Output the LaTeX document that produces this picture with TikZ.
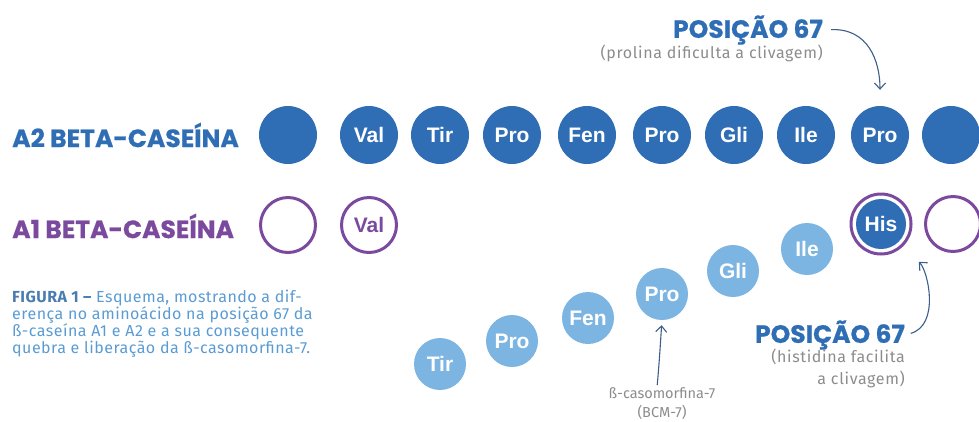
\documentclass[tikz,border=0pt]{standalone}
\usepackage{fontspec}
\setmainfont{Fira Sans}
\newfontfamily\titulofont{Poppins}[BoldFeatures={FakeBold=0.6}]
\newfontfamily\circfont{Liberation Sans}
\usetikzlibrary{arrows.meta}

\definecolor{azulA}{HTML}{2F6EB5}
\definecolor{roxoA}{HTML}{7B4A9E}
\definecolor{azulclaro}{HTML}{7DB5E2}
\definecolor{cinza}{HTML}{8C8C8C}
\definecolor{seta}{HTML}{3C5E8A}
\definecolor{legenda}{HTML}{5A9BD4}
\definecolor{legendaB}{HTML}{4A7DAF}

\tikzset{
  amino/.style={circle, minimum size=58pt, inner sep=0pt, fill=azulA, text=white,
    font=\circfont\bfseries\fontsize{21}{21}\selectfont},
  aminoA1/.style={circle, minimum size=55pt, inner sep=0pt, draw=roxoA, line width=3pt,
    text=roxoA, font=\circfont\bfseries\fontsize{21}{21}\selectfont},
  bcm/.style={circle, minimum size=52pt, inner sep=0pt, fill=azulclaro, text=white,
    font=\circfont\bfseries\fontsize{21}{21}\selectfont},
  titulo/.style={inner sep=0pt, font=\titulofont\bfseries\fontsize{25}{25}\selectfont},
  nota/.style={inner sep=0pt, text=cinza, font=\fontsize{16}{22}\selectfont\addfontfeature{LetterSpace=4}},
  curva/.style={seta, line width=1.1pt, -{Straight Barb[length=6pt,width=11pt]}}
}

\begin{document}
\begin{tikzpicture}[x=1pt, y=-1pt]
\useasboundingbox (0,0) rectangle (979,421);

%Cadeia A2
\node[titulo, text=azulA, anchor=west] (lA2) at (12,135) {A2 BETA-CASEÍNA};
\node[amino] (a0) at (288,135) {};
\node[amino] (a1) at (369,135) {Val};
\node[amino] (a2) at (440,135) {Tir};
\node[amino] (a3) at (512,135) {Pro};
\node[amino] (a4) at (587,135) {Fen};
\node[amino] (a5) at (662,135) {Pro};
\node[amino] (a6) at (734,135) {Gli};
\node[amino] (a7) at (806,135) {Ile};
\node[amino] (a8) at (880,135) {Pro};
\node[amino] (a9) at (951,135) {};

%Cadeia A1
\node[titulo, text=roxoA, anchor=west] (lA1) at (12,226) {A1 BETA-CASEÍNA};
\node[aminoA1] (b0) at (288,225) {};
\node[aminoA1] (b1) at (369,225) {Val};
\node[circle, minimum size=60pt, inner sep=0pt, draw=roxoA, line width=3pt] (his) at (881,224) {};
\node[amino, minimum size=50pt] (b8) at (his) {His};
\node[aminoA1] (b9) at (953,224) {};

%BCM-7 liberada
\node[bcm] (c1) at (440,364) {Tir};
\node[bcm] (c2) at (512,341) {Pro};
\node[bcm] (c3) at (588,318) {Fen};
\node[bcm] (c4) at (662,294) {Pro};
\node[bcm] (c5) at (733,271) {Gli};
\node[bcm] (c6) at (807,249) {Ile};

%Textos
\node[titulo, text=azulA, anchor=east] (p1) at (823,30) {POSIÇÃO 67};
\node[nota, anchor=east] (n1) at (823,53) {(prolina dificulta a clivagem)};
\node[titulo, text=azulA, anchor=east] (p2) at (905,335) {POSIÇÃO 67};
\node[nota, anchor=north east, align=right] (n2) at (905,349) {(histidina facilita\\a clivagem)};
\node[nota, anchor=north, align=center, font=\fontsize{14.5}{19}\selectfont] (n3) at (662,387) {ß-casomorfina-7\\(BCM-7)};
\node[inner sep=0pt, anchor=north west, align=left, text=legenda,
  font=\fontsize{16}{17}\selectfont\addfontfeature{LetterSpace=3}] (leg) at (12,290)
  {{\color{legendaB}\bfseries FIGURA 1 –} Esquema, mostrando a dif-\\
   erença no aminoácido na posição 67 da\\
   ß-caseína A1 e A2 e a sua consequente\\
   quebra e liberação da ß-casomorfina-7.};

%Setas
\draw[curva, shorten <=8pt, shorten >=16pt] (p1.east) .. controls +(45,-2) and +(0,-45) .. (a8.north);
\draw[curva, shorten <=6pt, shorten >=22pt] (p2.east) .. controls +(35,-10) and +(25,25) .. (his.south east);
\draw[curva, shorten <=2pt, shorten >=5pt] ([xshift=-5pt]n3.north) .. controls +(2,-20) and +(-1,14) .. (c4.south);
\end{tikzpicture}
\end{document}
